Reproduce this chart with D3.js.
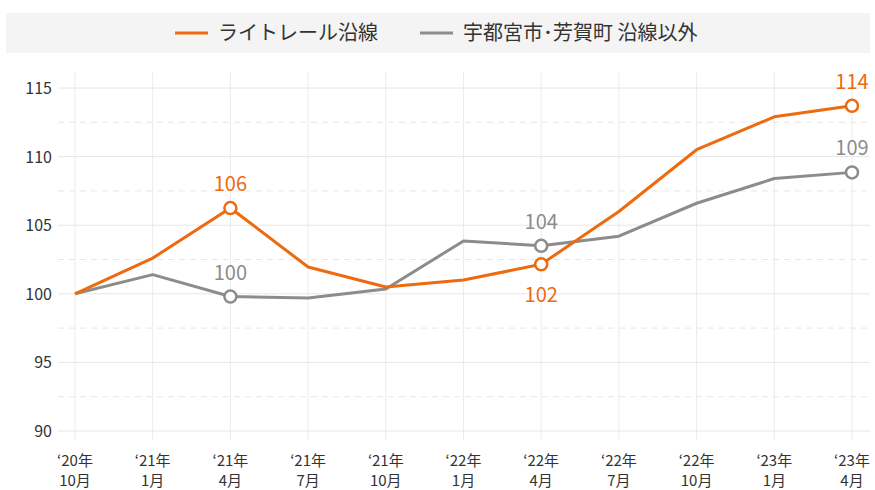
<!DOCTYPE html>
<html>
<head>
<meta charset="utf-8">
<script src="https://cdn.jsdelivr.net/npm/d3@7"></script>
<style>
  body { margin: 0; background: #fff; }
  text { font-family: "Noto Sans CJK JP", "Noto Sans", sans-serif; }
</style>
</head>
<body>
<div id="chart"></div>
<script>
// データ
const years = ["‘20年", "‘21年", "‘21年", "‘21年", "‘21年", "‘22年", "‘22年", "‘22年", "‘22年", "‘23年", "‘23年"];
const months = ["10月", "1月", "4月", "7月", "10月", "1月", "4月", "7月", "10月", "1月", "4月"];
const lightRail = [100, 102.6, 106.25, 101.95, 100.5, 101.0, 102.15, 106.0, 110.5, 112.9, 113.7];
const others = [100, 101.4, 99.8, 99.7, 100.35, 103.85, 103.5, 104.2, 106.6, 108.4, 108.85];
const markIdx = [2, 6, 10];
const yTicks = [90, 95, 100, 105, 110, 115];
const yMinor = [92.5, 97.5, 102.5, 107.5, 112.5];

const W = 875, H = 490;
const orange = "#ee6a0f", gray = "#8c8c8c";

const svg = d3.select("#chart").append("svg")
  .attr("width", W).attr("height", H);

// 凡例
svg.append("rect")
  .attr("x", 6).attr("y", 13).attr("width", 864).attr("height", 40)
  .attr("fill", "#f4f4f4");

const legend = [
  { name: "ライトレール沿線", color: orange, x: 175 },
  { name: "宇都宮市･芳賀町 沿線以外", color: gray, x: 420 }
];
legend.forEach(l => {
  svg.append("line")
    .attr("x1", l.x).attr("x2", l.x + 33).attr("y1", 33).attr("y2", 33)
    .attr("stroke", l.color).attr("stroke-width", 3);
  svg.append("text")
    .attr("x", l.x + 43).attr("y", 40)
    .attr("fill", "#333").style("font-size", "20px")
    .text(l.name);
});

// スケール
const x = d3.scalePoint()
  .domain(d3.range(years.length))
  .range([75, 852]);

const y = d3.scaleLinear()
  .domain([90, 115])
  .range([431, 88]);

const yTop = y(116.2);

// グリッド
svg.append("g").selectAll("line")
  .data(d3.range(years.length))
  .join("line")
  .attr("x1", d => x(d)).attr("x2", d => x(d))
  .attr("y1", yTop).attr("y2", 440)
  .attr("stroke", "#ececec").attr("stroke-width", 1);

svg.append("g").selectAll("line")
  .data(yTicks)
  .join("line")
  .attr("x1", 58).attr("x2", 870)
  .attr("y1", d => y(d)).attr("y2", d => y(d))
  .attr("stroke", "#e6e6e6").attr("stroke-width", 1);

svg.append("g").selectAll("line")
  .data(yMinor)
  .join("line")
  .attr("x1", 58).attr("x2", 870)
  .attr("y1", d => y(d)).attr("y2", d => y(d))
  .attr("stroke", "#e6e6e6").attr("stroke-width", 1)
  .attr("stroke-dasharray", "6,5");

// y軸ラベル
svg.append("g").selectAll("text")
  .data(yTicks)
  .join("text")
  .attr("x", 52).attr("y", d => y(d) + 6)
  .attr("text-anchor", "end")
  .attr("fill", "#333").style("font-size", "16px")
  .text(d => d);

// x軸ラベル
const xl = svg.append("g").selectAll("text")
  .data(d3.range(years.length))
  .join("text")
  .attr("text-anchor", "middle")
  .attr("fill", "#333").style("font-size", "15px");
xl.append("tspan").attr("x", d => x(d)).attr("y", 466).text(d => years[d]);
xl.append("tspan").attr("x", d => x(d)).attr("y", 486).text(d => months[d]);

// 折れ線
const line = d3.line()
  .x((d, i) => x(i))
  .y(d => y(d));

const series = [
  { values: others, color: gray, labelPos: ["above", "above", "above"] },
  { values: lightRail, color: orange, labelPos: ["above", "below", "above"] }
];

series.forEach(s => {
  svg.append("path")
    .datum(s.values)
    .attr("fill", "none")
    .attr("stroke", s.color)
    .attr("stroke-width", 3)
    .attr("stroke-linejoin", "round")
    .attr("d", line);

  svg.append("g").selectAll("circle")
    .data(markIdx)
    .join("circle")
    .attr("cx", d => x(d)).attr("cy", d => y(s.values[d]))
    .attr("r", 6)
    .attr("fill", "#fff")
    .attr("stroke", s.color).attr("stroke-width", 2.5);

  svg.append("g").selectAll("text")
    .data(markIdx)
    .join("text")
    .attr("x", d => x(d))
    .attr("y", (d, i) => s.labelPos[i] === "above" ? y(s.values[d]) - 17 : y(s.values[d]) + 38)
    .attr("text-anchor", "middle")
    .attr("fill", s.color).style("font-size", "20px")
    .text(d => Math.round(s.values[d]));
});
</script>
</body>
</html>
